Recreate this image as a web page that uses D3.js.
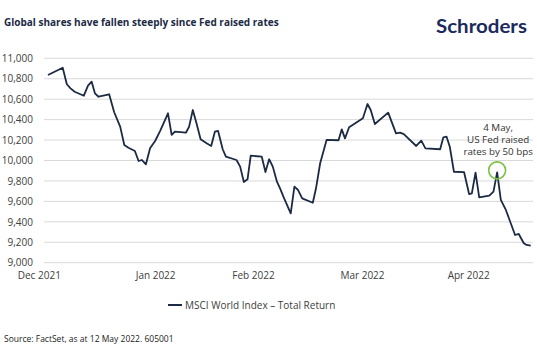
<!DOCTYPE html>
<html><head><meta charset="utf-8">
<script src="https://cdn.jsdelivr.net/npm/d3@7"></script>
<style>
html,body{margin:0;padding:0;background:#fff;}
svg{display:block;font-family:"Open Sans","Noto Sans",sans-serif;}
</style></head>
<body><svg id="c" width="537" height="360"></svg>
<script>
// Trading-day position along the axis and index level (MSCI World TR)
const days = [0,3.2,4.1,4.9,5.8,7.8,8.7,9.5,10.2,11.0,13.3,14.4,15.7,16.6,17.5,18.9,19.7,20.4,21.3,22.2,23.3,24.4,26.1,26.9,27.6,30.0,30.7,31.5,32.3,33.2,34.5,35.5,36.3,37.0,38.0,38.7,41.0,41.8,42.6,43.4,44.1,46.5,47.3,48.1,48.9,49.8,50.5,51.2,52.8,53.6,54.4,55.3,57.6,58.3,59.2,60.6,63.2,63.9,64.6,65.5,68.5,69.5,70.2,71.1,74.0,75.7,76.6,77.4,80.1,81.2,82.1,85.3,86.0,86.7,87.4,88.3,90.5,91.6,92.2,93.0,93.8,96.0,96.9,97.7,98.5,99.6,101.6,102.4,103.5,104.1,105];
const values = [10836,10908,10746,10706,10673,10634,10732,10771,10657,10624,10648,10472,10331,10152,10125,10093,9995,10005,9963,10119,10191,10290,10462,10250,10282,10272,10331,10494,10364,10207,10168,10142,10282,10289,10110,10037,10005,9940,9790,9816,10047,10037,9887,10012,9940,9793,9724,9646,9483,9744,9711,9630,9587,9728,9973,10201,10198,10305,10217,10325,10413,10553,10494,10357,10468,10266,10272,10259,10142,10194,10119,10110,10227,10233,10135,9890,9887,9672,9679,9881,9640,9656,9695,9884,9614,9516,9271,9281,9190,9174,9167];
const tickLabels = ["Dec 2021","Jan 2022","Feb 2022","Mar 2022","Apr 2022"];
const tickDays = [-2,23.3,44.6,68.3,91.4];
const yTicks = [9000,9200,9400,9600,9800,10000,10200,10400,10600,10800,11000];
const seriesName = "MSCI World Index \u2013 Total Return";
const fedDay = 97.7, fedValue = 9884;
const annotation = ["4 May,","US Fed raised","rates by 50 bps"];

const svg = d3.select("#c");
const x = d3.scaleLinear().domain([0,105]).range([48,530.7]);
const y = d3.scaleLinear().domain([9000,11000]).range([262.7,58.3]);

// title
svg.append("text").attr("x",4).attr("y",25.5).attr("font-size",10).attr("font-weight",700)
  .attr("fill","#1b2a45").text("Global shares have fallen steeply since Fed raised rates");
// logo
svg.append("text").attr("x",436).attr("y",32.5).attr("font-size",19.5).attr("font-weight",700)
  .attr("font-family","Lato, 'Open Sans', sans-serif").attr("textLength",91).attr("lengthAdjust","spacingAndGlyphs")
  .attr("fill","#1c2b5c").text("Schroders");

// grid
svg.append("g").selectAll("line").data(yTicks).join("line")
  .attr("x1",44).attr("x2",533).attr("y1",d=>y(d)).attr("y2",d=>y(d))
  .attr("stroke","#d9d9d9").attr("stroke-width",1);

// y axis labels
const yAxis = d3.axisLeft(y).tickValues(yTicks).tickFormat(d3.format(",")).tickSize(0).tickPadding(0);
const gy = svg.append("g").attr("transform","translate(33,0)").call(yAxis);
gy.select(".domain").remove();
gy.selectAll("text").attr("font-size",10).attr("fill","#404040").attr("font-family","'Open Sans',sans-serif");

// x axis labels
const xAxis = d3.axisBottom(x).tickValues(tickDays).tickFormat((d,i)=>tickLabels[i]).tickSize(0).tickPadding(0);
const gx = svg.append("g").attr("transform","translate(0,272)").call(xAxis);
gx.select(".domain").remove();
gx.selectAll("text").attr("font-size",10).attr("fill","#404040").attr("font-family","'Open Sans',sans-serif");

// line
const pts = days.map((d,i)=>[d,values[i]]);
svg.append("path").datum(pts).attr("fill","none").attr("stroke","#1c2a44").attr("stroke-width",1.8)
  .attr("stroke-linejoin","round")
  .attr("d",d3.line().x(d=>x(d[0])).y(d=>y(d[1])));

// fed marker
svg.append("circle").attr("cx",x(fedDay)).attr("cy",y(fedValue)-2).attr("r",8.5)
  .attr("fill","none").attr("stroke","#7cc242").attr("stroke-width",1.6);
svg.append("g").selectAll("text").data(annotation).join("text")
  .attr("x",x(fedDay)+1).attr("y",(d,i)=>131+i*12).attr("text-anchor","middle")
  .attr("font-size",9.8).attr("fill","#333").text(d=>d);

// legend
svg.append("line").attr("x1",168).attr("x2",182).attr("y1",305).attr("y2",305)
  .attr("stroke","#1c2a44").attr("stroke-width",2);
svg.append("text").attr("x",185).attr("y",308.5).attr("font-size",10).attr("fill","#404040").text(seriesName);

// source
svg.append("text").attr("x",4).attr("y",342).attr("font-size",8.5).attr("fill","#222")
  .text("Source: FactSet, as at 12 May 2022. 605001");
</script></body></html>
